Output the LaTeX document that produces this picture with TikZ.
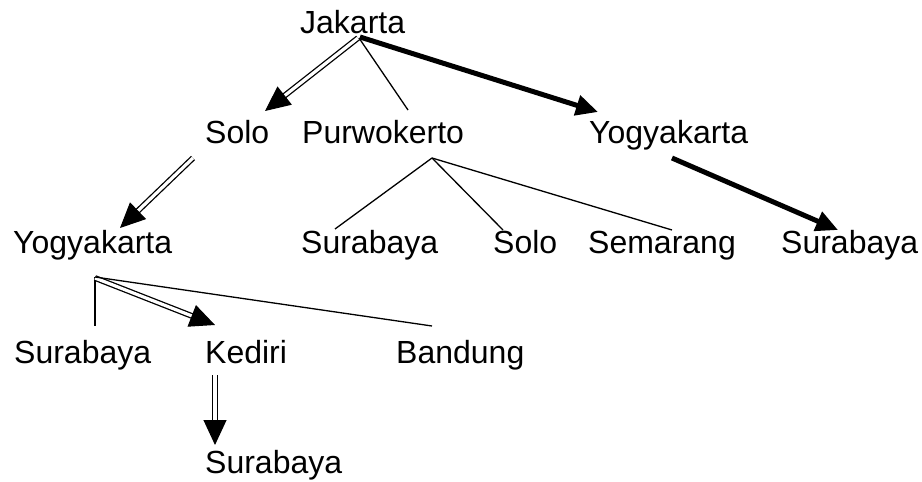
\documentclass[tikz,border=0pt]{standalone}
\usepackage{fontspec}
\setmainfont{Liberation Sans}
\usetikzlibrary{arrows.meta}

\tikzset{
  kota/.style={anchor=base west, inner sep=0pt, font=\fontsize{32}{38}\selectfont},
  cabang/.style={line width=1.3pt},
  tebal/.style={line width=5pt, -{Triangle[length=22pt, width=20pt]}},
  % garis ganda: dua garis tipis lewat preaction, ujung panah hitam penuh
  ganda/.style={draw=white, line width=1pt,
    -{Triangle[length=25pt, width=23pt, color=black]},
    preaction={draw=black, -, line width=1.3pt, double=white,
      double distance=3.2pt, shorten >=20pt}}
}

\begin{document}
\begin{tikzpicture}[x=1pt, y=-1pt]
    \useasboundingbox (0,0) rectangle (922,482);
    % Kota-kota (baris per tingkat)
    \node[kota] (jakarta) at (300,33) {Jakarta};
    \node[kota] (solo) at (205,143) {Solo};
    \node[kota] (purwokerto) at (302,143) {Purwokerto};
    \node[kota] (yogya) at (589,143) {Yogyakarta};
    \node[kota] (yogya2) at (13,253) {Yogyakarta};
    \node[kota] (sby1) at (301,253) {Surabaya};
    \node[kota] (solo2) at (493,253) {Solo};
    \node[kota] (semarang) at (588,253) {Semarang};
    \node[kota] (sby2) at (781,253) {Surabaya};
    \node[kota] (sby3) at (14,363) {Surabaya};
    \node[kota] (kediri) at (205,363) {Kediri};
    \node[kota] (bandung) at (396,363) {Bandung};
    \node[kota] (sby4) at (205,473) {Surabaya};
    % Cabang dari Jakarta
    \draw[ganda] ([shift={(58,5)}]jakarta.base west) -- ([shift={(60,-32)}]solo.base west);
    \draw[cabang] ([shift={(59,5)}]jakarta.base west) -- ([shift={(106,-33)}]purwokerto.base west);
    \draw[tebal] ([shift={(60,4)}]jakarta.base west) -- ([shift={(9,-31)}]yogya.base west);
    % Cabang dari Purwokerto
    \draw[cabang] ([shift={(130,15)}]purwokerto.base west) -- ([shift={(34,-24)}]sby1.base west);
    \draw[cabang] ([shift={(130,15)}]purwokerto.base west) -- ([shift={(10,-23)}]solo2.base west);
    \draw[cabang] ([shift={(130,15)}]purwokerto.base west) -- ([shift={(84,-23)}]semarang.base west);
    % Yogyakarta -> Surabaya
    \draw[tebal] ([shift={(83,15)}]yogya.base west) -- ([shift={(57,-23)}]sby2.base west);
    % Solo -> Yogyakarta
    \draw[ganda] ([shift={(-12,15)}]solo.base west) -- ([shift={(107,-25)}]yogya2.base west);
    % Cabang dari Yogyakarta
    \draw[cabang] ([shift={(82,24)}]yogya2.base west) -- ([shift={(81,-37)}]sby3.base west);
    \draw[ganda] ([shift={(82,25)}]yogya2.base west) -- ([shift={(10,-38)}]kediri.base west);
    \draw[cabang] ([shift={(82,24)}]yogya2.base west) -- ([shift={(36,-37)}]bandung.base west);
    % Kediri -> Surabaya
    \draw[ganda] ([shift={(10,12)}]kediri.base west) -- ([shift={(10,-28)}]sby4.base west);
\end{tikzpicture}
\end{document}
